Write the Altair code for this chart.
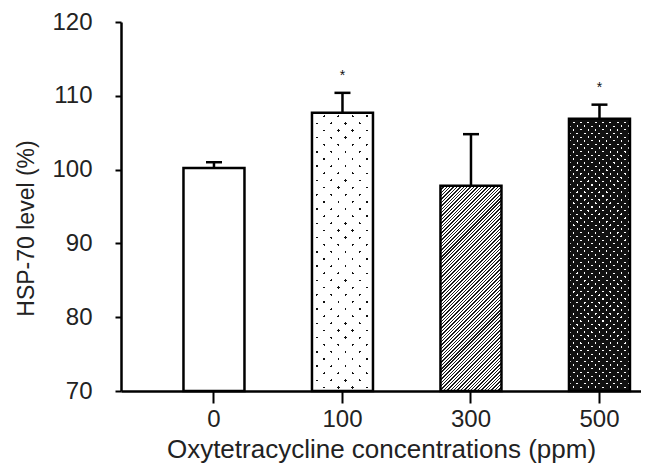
import math
import altair as alt
import pandas as pd

categories = ["0", "100", "300", "500"]
means = [100.2, 107.7, 97.8, 106.9]
sems = [0.8, 2.7, 7.0, 1.9]
sig = ["", "*", "", "*"]
y_ticks = [70, 80, 90, 100, 110, 120]

Y_MIN, Y_MAX = 70, 120
W, H = 520, 369
BAR_W = 61
FONT = "Liberation Sans"

df = pd.DataFrame({"cat": categories, "mean": means, "sem": sems, "sig": sig})
df["top"] = df["mean"] + df["sem"]


def bar_h(v):
    return (v - Y_MIN) / (Y_MAX - Y_MIN) * H


def stripes(h, family, period, thick, line_col, bg_col, w=BAR_W):
    """Linear gradient of 45-degree stripes over a w x h box (bbox units)."""
    c = (w + h) * h / (w * w + h * h)
    if family == "A":
        x1, y1, x2, y2 = 0, 0, c * w / h, c
    else:
        x1, y1, x2, y2 = 0, 1, c * w / h, 1 - c
    pt = period * math.sqrt(2) / (w + h)
    lt = thick * math.sqrt(2) / (w + h)
    stops = []
    k = 0
    while k * pt < 1:
        a = k * pt
        b = min(a + lt, 1)
        e = min((k + 1) * pt, 1)
        stops += [
            {"offset": a, "color": line_col},
            {"offset": b, "color": line_col},
            {"offset": b, "color": bg_col},
            {"offset": e, "color": bg_col},
        ]
        k += 1
    return {"gradient": "linear", "x1": x1, "y1": y1, "x2": x2, "y2": y2,
            "stops": stops}


CLEAR = "rgba(255,255,255,0)"
h100 = bar_h(means[1])
h300 = bar_h(means[2])
h500 = bar_h(means[3])

x_enc = alt.X(
    "cat:N",
    sort=categories,
    scale=alt.Scale(domain=categories, paddingInner=0.5253, paddingOuter=0.286, align=0.85),
    axis=alt.Axis(title="Oxytetracycline concentrations (ppm)", labelAngle=0,
                  tickSize=12, labelPadding=4, titleY=66, titleBaseline="alphabetic",
                  titleFontSize=26, labelFontSize=24),
)
y_enc = alt.Y(
    "mean:Q",
    scale=alt.Scale(domain=[Y_MIN, Y_MAX], zero=False, nice=False),
    axis=alt.Axis(title="HSP-70 level (%)", values=y_ticks, tickSize=6, labelPadding=23,
                  titleX=-95, titleY=206, titleAngle=-90, titleBaseline="middle",
                  titleAlign="center", titleFontSize=23, labelFontSize=24, grid=False),
)

base = alt.Chart(df).encode(x=x_enc, y=y_enc, y2=alt.datum(Y_MIN))

bar0 = base.transform_filter(alt.datum.cat == "0").mark_bar(
    width=BAR_W, fill="white", stroke="black", strokeWidth=2.5)

bar100a = base.transform_filter(alt.datum.cat == "100").mark_bar(
    width=BAR_W, strokeWidth=0,
    fill=stripes(h100, "A", 10.1, 1.8, "#111111", "#ffffff"))
bar100b = base.transform_filter(alt.datum.cat == "100").mark_bar(
    width=BAR_W, stroke="black", strokeWidth=2.5,
    fill=stripes(h100, "B", 10.1, 1.8, CLEAR, "#ffffff"))

bar300 = base.transform_filter(alt.datum.cat == "300").mark_bar(
    width=BAR_W, stroke="black", strokeWidth=2.5,
    fill=stripes(h300, "A", 2.4, 1.0, "#1a1a1a", "#ffffff"))

bar500a = base.transform_filter(alt.datum.cat == "500").mark_bar(
    width=BAR_W, strokeWidth=0,
    fill=stripes(h500, "A", 5.2, 1.5, "#ffffff", "#111111"))
bar500b = base.transform_filter(alt.datum.cat == "500").mark_bar(
    width=BAR_W, stroke="black", strokeWidth=2.5,
    fill=stripes(h500, "B", 5.2, 1.5, CLEAR, "#111111"))

err = alt.Chart(df).mark_rule(color="black", strokeWidth=2.5).encode(
    x=alt.X("cat:N", sort=categories), y="mean:Q", y2="top:Q")
cap = alt.Chart(df).mark_tick(color="black", thickness=2.5, size=16, opacity=1).encode(
    x=alt.X("cat:N", sort=categories), y="top:Q")
stars = alt.Chart(df).mark_text(fontSize=14, dy=-13, baseline="alphabetic",
                                color="#111111", font=FONT).encode(
    x=alt.X("cat:N", sort=categories), y="top:Q", text="sig:N")

chart = alt.layer(bar0, bar100a, bar100b, bar300, bar500a, bar500b, err, cap, stars).properties(
    width=W, height=H,
    autosize=alt.AutoSizeParams(type="none"),
    padding={"left": 113, "top": 14, "right": 0, "bottom": 73},
    background="white",
).configure_view(stroke=None).configure_axis(
    domainColor="black", domainWidth=2.5, tickColor="black", tickWidth=2,
    labelFont=FONT, titleFont=FONT, labelColor="#222222", titleColor="#222222",
    titleFontWeight="normal", grid=False,
)

chart.save("out.html", embed_options={"renderer": "svg", "actions": False})
